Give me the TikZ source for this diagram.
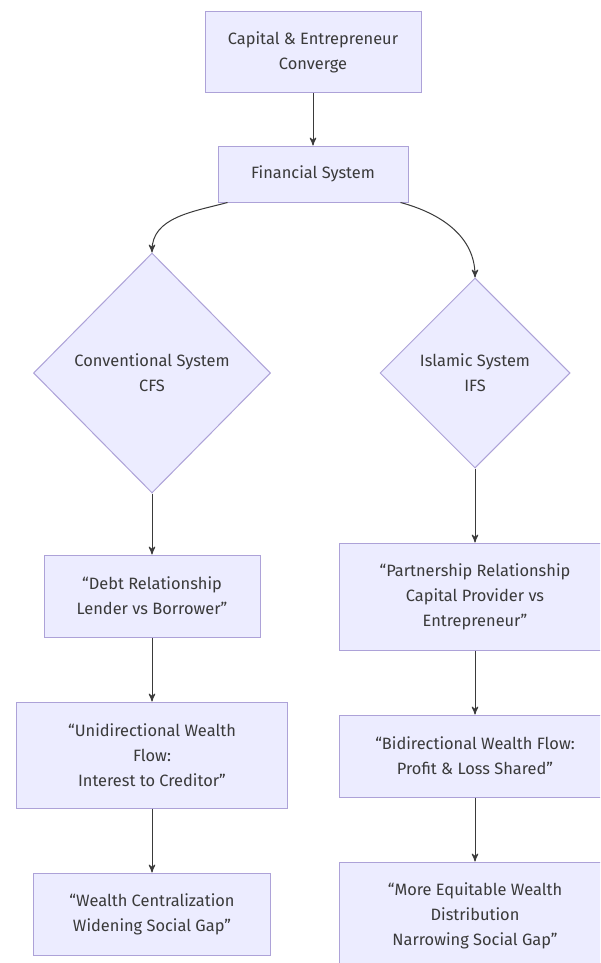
\documentclass[tikz,border=0pt]{standalone}
\usepackage{fontspec}
\setmainfont{Fira Sans}
\usetikzlibrary{
  arrows,
  shapes.geometric,
  chains,
  positioning,
  scopes
}
\definecolor{boxfill}{HTML}{ECECFF}
\definecolor{boxline}{HTML}{ADA2D8}
\definecolor{inktext}{HTML}{3A3A3A}

\begin{document}
\begin{tikzpicture}[
      x=0.5pt, y=-0.5pt,
      stage/.style={
         rectangle,
         draw=boxline,
         line width=0.5pt,
         fill=boxfill,
         text=inktext,
         align=center,
         inner sep=0pt,
         font=\fontsize{8.2}{12.5}\selectfont
      },
      choice/.style={
         diamond,
         draw=boxline,
         line width=0.5pt,
         fill=boxfill,
         text=inktext,
         align=center,
         inner sep=0pt,
         font=\fontsize{8.2}{12.5}\selectfont
      },
      >=stealth',draw=inktext,
      tip/.style={->,line width=0.5pt,shorten >=0.007pt},
    ]
    \useasboundingbox[fill=white] (0,0) rectangle (600,963);
    \clip (0,0) rectangle (600,963);
    % top
    \node (cap) [stage, minimum width=108pt, minimum height=40.5pt] at (313,52.5) {Capital \& Entrepreneur\\Converge};
    \node (fin) [stage, minimum width=95pt, minimum height=28pt] at (313,174) {Financial System};
    % the two systems
    \node (cfs) [choice, minimum width=118.5pt, minimum height=120pt] at (152,373) {Conventional System\\CFS};
    \node (ifs) [choice, minimum width=95pt, minimum height=95pt] at (475,373) {Islamic System\\IFS};
    % left column
    \node (debt) [stage, minimum width=108pt, minimum height=41pt] at (152,596) {“Debt Relationship\\Lender vs Borrower”};
    \node (uni) [stage, minimum width=135.5pt, minimum height=53pt] at (152,755) {“Unidirectional Wealth\\Flow:\\Interest to Creditor”};
    \node (cent) [stage, minimum width=118.5pt, minimum height=41pt] at (152,914) {“Wealth Centralization\\Widening Social Gap”};
    % right column
    \node (part) [stage, minimum width=136pt, minimum height=53.5pt] at (475,596.5) {“Partnership Relationship\\Capital Provider vs\\Entrepreneur”};
    \node (bid) [stage, minimum width=136pt, minimum height=41pt] at (475,756) {“Bidirectional Wealth Flow:\\Profit \& Loss Shared”};
    \node (equit) [stage, minimum width=136pt, minimum height=53.5pt] at (475,915.5) {“More Equitable Wealth\\Distribution\\Narrowing Social Gap”};

  { [start chain]
       \chainin (cap);
       \chainin (fin)    [join=by tip];
  }
  \draw[tip] ([xshift=5pt]fin.south west) to[out=-165,in=90] (cfs.north);
  \draw[tip] ([xshift=-4pt]fin.south east) to[out=-15,in=90] (ifs.north);
  { [start chain]
       \chainin (cfs);
       \chainin (debt)   [join=by tip];
       \chainin (uni)    [join=by tip];
       \chainin (cent)   [join=by tip];
  }
  { [start chain]
       \chainin (ifs);
       \chainin (part)   [join=by tip];
       \chainin (bid)    [join=by tip];
       \chainin (equit)  [join=by tip];
  }
\end{tikzpicture}
\end{document}
